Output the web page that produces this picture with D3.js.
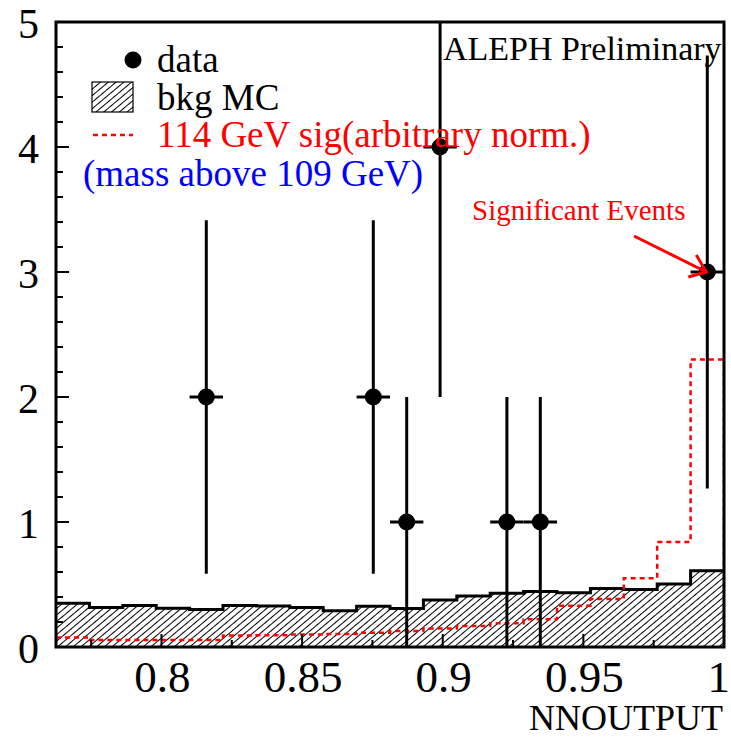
<!DOCTYPE html>
<html>
<head>
<meta charset="utf-8">
<script src="https://cdn.jsdelivr.net/npm/d3@7"></script>
<style>
  html, body { margin: 0; padding: 0; background: #fff; }
  svg { display: block; }
  text { font-family: "Liberation Serif", "Times New Roman", serif; }
</style>
</head>
<body>
<svg id="chart" width="731" height="739"></svg>
<script>
// ---- data ----
const xRange = [0.7625, 1.0];
const nBins = 20;
const dataCounts = [0, 0, 0, 0, 2, 0, 0, 0, 0, 2, 1, 4, 0, 1, 1, 0, 0, 0, 0, 3];
const dataErrors = [0, 0, 0, 0, 1.414, 0, 0, 0, 0, 1.414, 1, 2, 0, 1, 1, 0, 0, 0, 0, 1.732];
const bkgMC = [0.35, 0.317, 0.333, 0.31, 0.30, 0.333, 0.328, 0.317, 0.29, 0.327,
               0.309, 0.376, 0.408, 0.43, 0.445, 0.435, 0.469, 0.461, 0.504, 0.61];
const signal = [0.077, 0.056, 0.056, 0.056, 0.056, 0.092, 0.095, 0.10, 0.104, 0.115,
                0.128, 0.149, 0.168, 0.19, 0.222, 0.33, 0.384, 0.55, 0.84, 2.30];
const xTickMajor = [0.8, 0.85, 0.9, 0.95, 1.0];
const xTickLabels = ["0.8", "0.85", "0.9", "0.95", "1"];
const xTickMinor = [0.775, 0.825, 0.875, 0.925, 0.975];
const yTickMajor = [0, 1, 2, 3, 4, 5];
const yTickLabels = ["0", "1", "2", "3", "4", "5"];

// ---- layout ----
const svg = d3.select("#chart");
const L = 56, R = 724, T = 22, B = 647;
const x = d3.scaleLinear().domain(xRange).range([L, R]);
const y = d3.scaleLinear().domain([0, 5]).range([B, T]);
const bw = (xRange[1] - xRange[0]) / nBins;
const lo = i => xRange[0] + i * bw;

// hatch pattern
const defs = svg.append("defs");
const pat = defs.append("pattern")
  .attr("id", "hatch").attr("patternUnits", "userSpaceOnUse")
  .attr("width", 5).attr("height", 5)
  .attr("patternTransform", "rotate(-40)");
pat.append("line").attr("x1", -1).attr("x2", 6).attr("y1", 2.5).attr("y2", 2.5)
  .attr("stroke", "#000").attr("stroke-width", 1);
defs.append("clipPath").attr("id", "clip")
  .append("rect").attr("x", L).attr("y", T).attr("width", R - L).attr("height", B - T);

const g = svg.append("g").attr("clip-path", "url(#clip)");

// step path builder
function stepPts(vals) {
  const pts = [[x(lo(0)), y(0)]];
  vals.forEach((v, i) => {
    pts.push([x(lo(i)), y(v)]);
    pts.push([x(lo(i + 1)), y(v)]);
  });
  pts.push([x(lo(nBins)), y(0)]);
  return pts;
}
const line = d3.line();

// background MC: hatched fill + outline
g.append("path").attr("d", line(stepPts(bkgMC)) + "Z")
  .attr("fill", "url(#hatch)").attr("stroke", "none");
g.append("path").attr("d", line(stepPts(bkgMC).slice(1, -1)))
  .attr("fill", "none").attr("stroke", "#000").attr("stroke-width", 3);

// signal: red dashed step
g.append("path").attr("d", line(stepPts(signal).slice(1)))
  .attr("fill", "none").attr("stroke", "#ff0000").attr("stroke-width", 2.5)
  .attr("stroke-dasharray", "5,4");

// data points
const pts = dataCounts.map((c, i) => ({c, e: dataErrors[i], i})).filter(d => d.c > 0);
const dg = g.append("g");
pts.forEach(d => {
  const cx = x(lo(d.i) + bw / 2);
  dg.append("line").attr("x1", cx).attr("x2", cx)
    .attr("y1", y(d.c - d.e)).attr("y2", y(d.c + d.e))
    .attr("stroke", "#000").attr("stroke-width", 3);
  dg.append("line").attr("x1", x(lo(d.i))).attr("x2", x(lo(d.i + 1)))
    .attr("y1", y(d.c)).attr("y2", y(d.c))
    .attr("stroke", "#000").attr("stroke-width", 3);
  dg.append("circle").attr("cx", cx).attr("cy", y(d.c)).attr("r", 8.5).attr("fill", "#000");
});

// frame
svg.append("rect").attr("x", L).attr("y", T).attr("width", R - L).attr("height", B - T)
  .attr("fill", "none").attr("stroke", "#000").attr("stroke-width", 3);

// y ticks
const yMinor = d3.range(0, 5.001, 0.2).filter(v => Math.abs(v - Math.round(v)) > 1e-6);
yTickMajor.forEach(v => {
  svg.append("line").attr("x1", L).attr("x2", L + 13).attr("y1", y(v)).attr("y2", y(v))
    .attr("stroke", "#000").attr("stroke-width", 2);
});
yMinor.forEach(v => {
  svg.append("line").attr("x1", L).attr("x2", L + 7).attr("y1", y(v)).attr("y2", y(v))
    .attr("stroke", "#000").attr("stroke-width", 2);
});
yTickMajor.forEach((v, i) => {
  svg.append("text").attr("x", 39).attr("y", y(v) + 16).attr("text-anchor", "end")
    .attr("font-size", 42).text(yTickLabels[i]);
});

// x ticks
xTickMajor.forEach(v => {
  svg.append("line").attr("x1", x(v)).attr("x2", x(v)).attr("y1", B).attr("y2", B - 13)
    .attr("stroke", "#000").attr("stroke-width", 2);
});
xTickMinor.forEach(v => {
  svg.append("line").attr("x1", x(v)).attr("x2", x(v)).attr("y1", B).attr("y2", B - 7)
    .attr("stroke", "#000").attr("stroke-width", 2);
});
xTickMajor.forEach((v, i) => {
  const last = i === xTickMajor.length - 1;
  svg.append("text").attr("x", last ? 730 : x(v) + 1).attr("y", 692)
    .attr("text-anchor", last ? "end" : "middle")
    .attr("font-size", 45).text(xTickLabels[i]);
});
svg.append("text").attr("x", 723).attr("y", 730).attr("text-anchor", "end")
  .attr("font-size", 36).text("NNOUTPUT");

// legend
svg.append("circle").attr("cx", 133).attr("cy", 60).attr("r", 8.5).attr("fill", "#000");
svg.append("text").attr("x", 157).attr("y", 72).attr("font-size", 37).text("data");
svg.append("rect").attr("x", 92).attr("y", 82).attr("width", 41).attr("height", 30)
  .attr("fill", "url(#hatch)").attr("stroke", "#000").attr("stroke-width", 1.2);
svg.append("text").attr("x", 157).attr("y", 110).attr("font-size", 37).text("bkg MC");
svg.append("line").attr("x1", 93).attr("x2", 133).attr("y1", 135).attr("y2", 135)
  .attr("stroke", "#ff0000").attr("stroke-width", 2.5).attr("stroke-dasharray", "5,4");
svg.append("text").attr("x", 157).attr("y", 147).attr("font-size", 37).attr("fill", "#ff0000")
  .text("114 GeV sig(arbitrary norm.)");
svg.append("text").attr("x", 83).attr("y", 186).attr("font-size", 37).attr("fill", "#0000ff")
  .text("(mass above 109 GeV)");

// annotations
svg.append("text").attr("x", 443).attr("y", 60).attr("font-size", 34).text("ALEPH Preliminary");
svg.append("text").attr("x", 472).attr("y", 220).attr("font-size", 29).attr("fill", "#ff0000")
  .text("Significant Events");
const tip = [x(lo(19) + bw / 2) - 1, y(dataCounts[19])];
svg.append("line").attr("x1", 634).attr("y1", 236).attr("x2", tip[0]).attr("y2", tip[1])
  .attr("stroke", "#ff0000").attr("stroke-width", 3);
svg.append("path")
  .attr("d", `M${tip[0] - 10},${tip[1] - 17} L${tip[0]},${tip[1]} L${tip[0] - 18},${tip[1] + 5}`)
  .attr("fill", "none").attr("stroke", "#ff0000").attr("stroke-width", 3);
</script>
</body>
</html>
